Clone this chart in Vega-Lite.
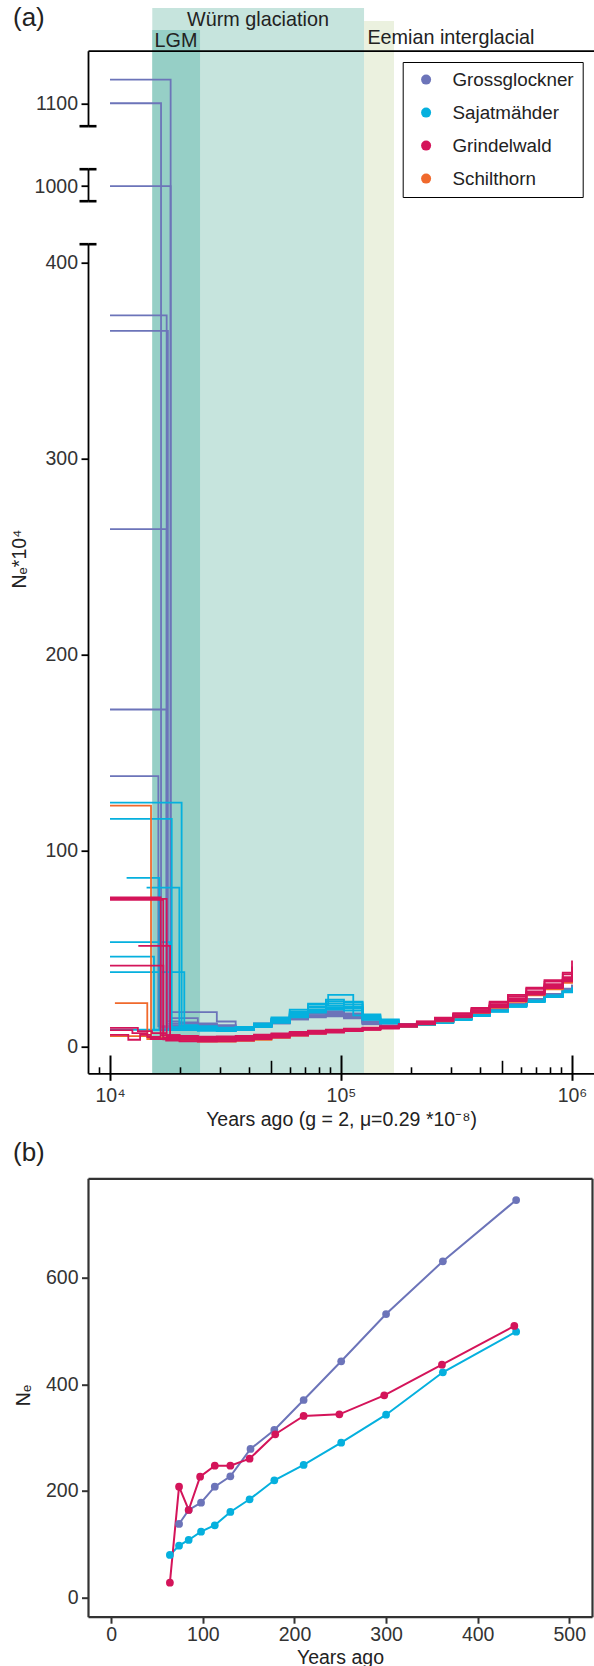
{
"$schema":"https://vega.github.io/schema/vega-lite/v6.json",
"autosize":{"type":"none"},
"width":506,"height":1566,
"padding":{"left":88,"top":50.7,"right":0,"bottom":49.3},
"background":"white",
"config":{"view":{"stroke":null},"font":"Liberation Sans","axis":{"grid":false,"labelFont":"Liberation Sans","titleFont":"Liberation Sans"},"legend":{"labelFont":"Liberation Sans"}},
"datasets":{
"reps":[{"rep":"G1","pop":"Grossglockner"},{"rep":"G2","pop":"Grossglockner"},{"rep":"G3","pop":"Grossglockner"},{"rep":"G4","pop":"Grossglockner"},{"rep":"G5","pop":"Grossglockner"},{"rep":"G6","pop":"Grossglockner"},{"rep":"G7","pop":"Grossglockner"},{"rep":"G8","pop":"Grossglockner"},
{"rep":"S1","pop":"Sajatmähder"},{"rep":"S2","pop":"Sajatmähder"},{"rep":"S3","pop":"Sajatmähder"},{"rep":"S4","pop":"Sajatmähder"},{"rep":"S5","pop":"Sajatmähder"},{"rep":"S6","pop":"Sajatmähder"},{"rep":"S7","pop":"Sajatmähder"},{"rep":"S8","pop":"Sajatmähder"},
{"rep":"R1","pop":"Grindelwald"},{"rep":"R2","pop":"Grindelwald"},{"rep":"R3","pop":"Grindelwald"},{"rep":"R4","pop":"Grindelwald"},{"rep":"R5","pop":"Grindelwald"},{"rep":"R6","pop":"Grindelwald"},{"rep":"R7","pop":"Grindelwald"},{"rep":"R8","pop":"Grindelwald"},
{"rep":"O1","pop":"Schilthorn"},{"rep":"O2","pop":"Schilthorn"},{"rep":"O3","pop":"Schilthorn"}],
"bands":[
{"period":"Würm glaciation","start":15240,"end":125800,"floor":-13.5,"top":1148.6,"label_t":43720,"label_ne":1139.6},
{"period":"LGM","start":15240,"end":24530,"floor":-13.5,"top":1137.4,"label_t":19310,"label_ne":1128.8},
{"period":"Eemian interglacial","start":125800,"end":169600,"floor":-13.5,"top":1141.9,"label_t":299200,"label_ne":1130.2}],
"ne":[
{"pop":"Grossglockner","yrs":74,"ne":137.7},{"pop":"Grossglockner","yrs":84.5,"ne":164},{"pop":"Grossglockner","yrs":98,"ne":177.8},{"pop":"Grossglockner","yrs":113,"ne":207.8},{"pop":"Grossglockner","yrs":130,"ne":227.3},{"pop":"Grossglockner","yrs":152,"ne":278.7},{"pop":"Grossglockner","yrs":178,"ne":314.4},{"pop":"Grossglockner","yrs":210,"ne":370.7},{"pop":"Grossglockner","yrs":251,"ne":443.4},{"pop":"Grossglockner","yrs":300,"ne":532.3},{"pop":"Grossglockner","yrs":362,"ne":631.3},{"pop":"Grossglockner","yrs":442,"ne":746.5},
{"pop":"Sajatmähder","yrs":64,"ne":79.5},{"pop":"Sajatmähder","yrs":74,"ne":97},{"pop":"Sajatmähder","yrs":84.5,"ne":107.7},{"pop":"Sajatmähder","yrs":98,"ne":123.3},{"pop":"Sajatmähder","yrs":113,"ne":135.3},{"pop":"Sajatmähder","yrs":130,"ne":160.3},{"pop":"Sajatmähder","yrs":151,"ne":184.1},{"pop":"Sajatmähder","yrs":178,"ne":219.8},{"pop":"Sajatmähder","yrs":210,"ne":248.6},{"pop":"Sajatmähder","yrs":251,"ne":290.5},{"pop":"Sajatmähder","yrs":300,"ne":343.1},{"pop":"Sajatmähder","yrs":362,"ne":422.8},{"pop":"Sajatmähder","yrs":442,"ne":499.1},
{"pop":"Grindelwald","yrs":64,"ne":27.4},{"pop":"Grindelwald","yrs":74,"ne":207.8},{"pop":"Grindelwald","yrs":84.5,"ne":164},{"pop":"Grindelwald","yrs":97,"ne":226.6},{"pop":"Grindelwald","yrs":113,"ne":247.3},{"pop":"Grindelwald","yrs":130,"ne":247.3},{"pop":"Grindelwald","yrs":151,"ne":260.4},{"pop":"Grindelwald","yrs":179,"ne":306.3},{"pop":"Grindelwald","yrs":210,"ne":340.7},{"pop":"Grindelwald","yrs":249,"ne":343.8},{"pop":"Grindelwald","yrs":298,"ne":379.5},{"pop":"Grindelwald","yrs":361,"ne":437.1},{"pop":"Grindelwald","yrs":440,"ne":509.8}],
"psmc":[
{"rep":"G1","t":10000,"ne":1112},{"rep":"G1","t":18300,"ne":17.7},{"rep":"G1","t":29000,"ne":12.9},{"rep":"G1","t":35000,"ne":10},{"rep":"G1","t":42000,"ne":11.5},{"rep":"G1","t":50000,"ne":13.5},{"rep":"G1","t":60000,"ne":16},{"rep":"G1","t":72000,"ne":18},{"rep":"G1","t":86000,"ne":19},{"rep":"G1","t":103000,"ne":17},{"rep":"G1","t":124000,"ne":13},{"rep":"G1","t":148000,"ne":11},{"rep":"G1","t":178000,"ne":10.8},{"rep":"G1","t":213000,"ne":11.6},{"rep":"G1","t":255000,"ne":12.9},{"rep":"G1","t":306000,"ne":14.6},{"rep":"G1","t":367000,"ne":16.6},{"rep":"G1","t":440000,"ne":18.9},{"rep":"G1","t":528000,"ne":21.6},{"rep":"G1","t":634000,"ne":24.1},{"rep":"G1","t":760000,"ne":26.6},{"rep":"G1","t":912000,"ne":29.2},{"rep":"G1","t":1000000,"ne":31.5},
{"rep":"G2","t":10000,"ne":1100},{"rep":"G2","t":16630,"ne":10},{"rep":"G2","t":20000,"ne":9},{"rep":"G2","t":24000,"ne":8.5},{"rep":"G2","t":29000,"ne":8},{"rep":"G2","t":35000,"ne":8.5},{"rep":"G2","t":42000,"ne":10},{"rep":"G2","t":50000,"ne":12},{"rep":"G2","t":60000,"ne":14},{"rep":"G2","t":72000,"ne":15},{"rep":"G2","t":86000,"ne":15.5},{"rep":"G2","t":103000,"ne":14.5},{"rep":"G2","t":124000,"ne":11.5},{"rep":"G2","t":148000,"ne":10},{"rep":"G2","t":178000,"ne":10.2},{"rep":"G2","t":213000,"ne":11.2},{"rep":"G2","t":255000,"ne":12.4},{"rep":"G2","t":306000,"ne":14.1},{"rep":"G2","t":367000,"ne":16},{"rep":"G2","t":440000,"ne":18.3},{"rep":"G2","t":528000,"ne":21},{"rep":"G2","t":634000,"ne":23.4},{"rep":"G2","t":760000,"ne":26},{"rep":"G2","t":912000,"ne":28.4},{"rep":"G2","t":1000000,"ne":30.5},
{"rep":"G3","t":10000,"ne":1000},{"rep":"G3","t":18300,"ne":14.6},{"rep":"G3","t":24000,"ne":12},{"rep":"G3","t":29000,"ne":11},{"rep":"G3","t":35000,"ne":10},{"rep":"G3","t":42000,"ne":12},{"rep":"G3","t":50000,"ne":14},{"rep":"G3","t":60000,"ne":16.5},{"rep":"G3","t":72000,"ne":17.5},{"rep":"G3","t":86000,"ne":18},{"rep":"G3","t":103000,"ne":16.5},{"rep":"G3","t":124000,"ne":12},{"rep":"G3","t":148000,"ne":10.4},{"rep":"G3","t":178000,"ne":10.6},{"rep":"G3","t":213000,"ne":11.7},{"rep":"G3","t":255000,"ne":13},{"rep":"G3","t":306000,"ne":14.8},{"rep":"G3","t":367000,"ne":16.8},{"rep":"G3","t":440000,"ne":19.2},{"rep":"G3","t":528000,"ne":21.8},{"rep":"G3","t":634000,"ne":24.4},{"rep":"G3","t":760000,"ne":27},{"rep":"G3","t":912000,"ne":29.6},{"rep":"G3","t":1000000,"ne":31},
{"rep":"G4","t":10000,"ne":373},{"rep":"G4","t":17590,"ne":11},{"rep":"G4","t":24000,"ne":10},{"rep":"G4","t":29000,"ne":9.5},{"rep":"G4","t":35000,"ne":9},{"rep":"G4","t":42000,"ne":10.5},{"rep":"G4","t":50000,"ne":12.5},{"rep":"G4","t":60000,"ne":14.5},{"rep":"G4","t":72000,"ne":16},{"rep":"G4","t":86000,"ne":16.5},{"rep":"G4","t":103000,"ne":15.5},{"rep":"G4","t":124000,"ne":12},{"rep":"G4","t":148000,"ne":10.2},{"rep":"G4","t":178000,"ne":10.3},{"rep":"G4","t":213000,"ne":11.3},{"rep":"G4","t":255000,"ne":12.6},{"rep":"G4","t":306000,"ne":14.3},{"rep":"G4","t":367000,"ne":16.3},{"rep":"G4","t":440000,"ne":18.6},{"rep":"G4","t":528000,"ne":21.2},{"rep":"G4","t":634000,"ne":23.7},{"rep":"G4","t":760000,"ne":26.2},{"rep":"G4","t":912000,"ne":28.7},{"rep":"G4","t":1000000,"ne":30},
{"rep":"G5","t":10000,"ne":365},{"rep":"G5","t":17800,"ne":13},{"rep":"G5","t":20000,"ne":12.5},{"rep":"G5","t":24000,"ne":11.5},{"rep":"G5","t":29000,"ne":10.5},{"rep":"G5","t":35000,"ne":9.8},{"rep":"G5","t":42000,"ne":11.2},{"rep":"G5","t":50000,"ne":13.2},{"rep":"G5","t":60000,"ne":15.2},{"rep":"G5","t":72000,"ne":17},{"rep":"G5","t":86000,"ne":17.5},{"rep":"G5","t":103000,"ne":16.2},{"rep":"G5","t":124000,"ne":12.8},{"rep":"G5","t":148000,"ne":10.6},{"rep":"G5","t":178000,"ne":10.6},{"rep":"G5","t":213000,"ne":11.6},{"rep":"G5","t":255000,"ne":12.9},{"rep":"G5","t":306000,"ne":14.6},{"rep":"G5","t":367000,"ne":16.7},{"rep":"G5","t":440000,"ne":19},{"rep":"G5","t":528000,"ne":21.7},{"rep":"G5","t":634000,"ne":24.2},{"rep":"G5","t":760000,"ne":26.8},{"rep":"G5","t":912000,"ne":29.3},{"rep":"G5","t":1000000,"ne":31.8},
{"rep":"G6","t":10000,"ne":264},{"rep":"G6","t":17590,"ne":9.5},{"rep":"G6","t":24000,"ne":9},{"rep":"G6","t":29000,"ne":8.5},{"rep":"G6","t":35000,"ne":8.8},{"rep":"G6","t":42000,"ne":10.2},{"rep":"G6","t":50000,"ne":12},{"rep":"G6","t":60000,"ne":14},{"rep":"G6","t":72000,"ne":15.5},{"rep":"G6","t":86000,"ne":16},{"rep":"G6","t":103000,"ne":15},{"rep":"G6","t":124000,"ne":11.8},{"rep":"G6","t":148000,"ne":10.1},{"rep":"G6","t":178000,"ne":10.2},{"rep":"G6","t":213000,"ne":11.2},{"rep":"G6","t":255000,"ne":12.5},{"rep":"G6","t":306000,"ne":14.2},{"rep":"G6","t":367000,"ne":16.2},{"rep":"G6","t":440000,"ne":18.5},{"rep":"G6","t":528000,"ne":21},{"rep":"G6","t":634000,"ne":23.5},{"rep":"G6","t":760000,"ne":26},{"rep":"G6","t":912000,"ne":28.5},{"rep":"G6","t":1000000,"ne":30.2},
{"rep":"G7","t":10000,"ne":172},{"rep":"G7","t":17590,"ne":12},{"rep":"G7","t":24000,"ne":10.8},{"rep":"G7","t":29000,"ne":9.8},{"rep":"G7","t":35000,"ne":9.6},{"rep":"G7","t":42000,"ne":11},{"rep":"G7","t":50000,"ne":13},{"rep":"G7","t":60000,"ne":15.5},{"rep":"G7","t":72000,"ne":17.2},{"rep":"G7","t":86000,"ne":17.8},{"rep":"G7","t":103000,"ne":16.5},{"rep":"G7","t":124000,"ne":12.6},{"rep":"G7","t":148000,"ne":10.5},{"rep":"G7","t":178000,"ne":10.5},{"rep":"G7","t":213000,"ne":11.5},{"rep":"G7","t":255000,"ne":12.8},{"rep":"G7","t":306000,"ne":14.5},{"rep":"G7","t":367000,"ne":16.5},{"rep":"G7","t":440000,"ne":18.8},{"rep":"G7","t":528000,"ne":21.5},{"rep":"G7","t":634000,"ne":24},{"rep":"G7","t":760000,"ne":26.5},{"rep":"G7","t":912000,"ne":29},{"rep":"G7","t":1000000,"ne":31},
{"rep":"G8","t":10000,"ne":138},{"rep":"G8","t":16190,"ne":10.5},{"rep":"G8","t":24000,"ne":10},{"rep":"G8","t":29000,"ne":9.2},{"rep":"G8","t":42000,"ne":10.8},{"rep":"G8","t":50000,"ne":12.8},{"rep":"G8","t":60000,"ne":14.8},{"rep":"G8","t":72000,"ne":16.2},{"rep":"G8","t":86000,"ne":16.8},{"rep":"G8","t":103000,"ne":15.8},{"rep":"G8","t":124000,"ne":12.3},{"rep":"G8","t":148000,"ne":10.3},{"rep":"G8","t":178000,"ne":10.4},{"rep":"G8","t":213000,"ne":11.4},{"rep":"G8","t":255000,"ne":12.7},{"rep":"G8","t":306000,"ne":14.4},{"rep":"G8","t":367000,"ne":16.4},{"rep":"G8","t":440000,"ne":18.7},{"rep":"G8","t":528000,"ne":21.3},{"rep":"G8","t":634000,"ne":23.8},{"rep":"G8","t":760000,"ne":26.3},{"rep":"G8","t":912000,"ne":28.8},{"rep":"G8","t":1000000,"ne":30.8},
{"rep":"S1","t":10000,"ne":124.5},{"rep":"S1","t":20420,"ne":9.5},{"rep":"S1","t":29000,"ne":9},{"rep":"S1","t":35000,"ne":9.5},{"rep":"S1","t":42000,"ne":11},{"rep":"S1","t":50000,"ne":14},{"rep":"S1","t":60000,"ne":17},{"rep":"S1","t":72000,"ne":20},{"rep":"S1","t":86000,"ne":22},{"rep":"S1","t":103000,"ne":21.5},{"rep":"S1","t":124000,"ne":15.5},{"rep":"S1","t":148000,"ne":13},{"rep":"S1","t":178000,"ne":11.2},{"rep":"S1","t":213000,"ne":11.6},{"rep":"S1","t":255000,"ne":12.6},{"rep":"S1","t":306000,"ne":14.1},{"rep":"S1","t":367000,"ne":16.1},{"rep":"S1","t":440000,"ne":18.3},{"rep":"S1","t":528000,"ne":20.9},{"rep":"S1","t":634000,"ne":23.3},{"rep":"S1","t":760000,"ne":25.9},{"rep":"S1","t":912000,"ne":28.3},{"rep":"S1","t":1000000,"ne":30},
{"rep":"S2","t":10000,"ne":116.2},{"rep":"S2","t":18500,"ne":10},{"rep":"S2","t":24000,"ne":9.5},{"rep":"S2","t":29000,"ne":9},{"rep":"S2","t":35000,"ne":9.2},{"rep":"S2","t":42000,"ne":10.8},{"rep":"S2","t":50000,"ne":13.5},{"rep":"S2","t":60000,"ne":16.5},{"rep":"S2","t":72000,"ne":19},{"rep":"S2","t":86000,"ne":21},{"rep":"S2","t":103000,"ne":20.5},{"rep":"S2","t":124000,"ne":14.5},{"rep":"S2","t":148000,"ne":12.5},{"rep":"S2","t":178000,"ne":11},{"rep":"S2","t":213000,"ne":11.5},{"rep":"S2","t":255000,"ne":12.5},{"rep":"S2","t":306000,"ne":14},{"rep":"S2","t":367000,"ne":16},{"rep":"S2","t":440000,"ne":18.2},{"rep":"S2","t":528000,"ne":20.8},{"rep":"S2","t":634000,"ne":23.2},{"rep":"S2","t":760000,"ne":25.8},{"rep":"S2","t":912000,"ne":28.2},{"rep":"S2","t":1000000,"ne":29.8},
{"rep":"S3","t":11800,"ne":86.1},{"rep":"S3","t":16350,"ne":9},{"rep":"S3","t":24000,"ne":8.8},{"rep":"S3","t":29000,"ne":8.4},{"rep":"S3","t":35000,"ne":8.8},{"rep":"S3","t":42000,"ne":10.2},{"rep":"S3","t":50000,"ne":12.5},{"rep":"S3","t":60000,"ne":15.5},{"rep":"S3","t":72000,"ne":18},{"rep":"S3","t":86000,"ne":19.8},{"rep":"S3","t":103000,"ne":19.5},{"rep":"S3","t":124000,"ne":14},{"rep":"S3","t":148000,"ne":12.2},{"rep":"S3","t":178000,"ne":10.9},{"rep":"S3","t":213000,"ne":11.3},{"rep":"S3","t":255000,"ne":12.3},{"rep":"S3","t":306000,"ne":13.8},{"rep":"S3","t":367000,"ne":15.8},{"rep":"S3","t":440000,"ne":18},{"rep":"S3","t":528000,"ne":20.5},{"rep":"S3","t":634000,"ne":22.9},{"rep":"S3","t":760000,"ne":25.5},{"rep":"S3","t":912000,"ne":27.9},{"rep":"S3","t":1000000,"ne":29.5},
{"rep":"S4","t":14400,"ne":81.2},{"rep":"S4","t":19960,"ne":10.5},{"rep":"S4","t":24000,"ne":10},{"rep":"S4","t":29000,"ne":9.5},{"rep":"S4","t":35000,"ne":10},{"rep":"S4","t":42000,"ne":11.5},{"rep":"S4","t":50000,"ne":14.5},{"rep":"S4","t":60000,"ne":18},{"rep":"S4","t":72000,"ne":21.5},{"rep":"S4","t":88000,"ne":26.5},{"rep":"S4","t":113000,"ne":16},{"rep":"S4","t":148000,"ne":13.5},{"rep":"S4","t":178000,"ne":11.4},{"rep":"S4","t":213000,"ne":11.8},{"rep":"S4","t":255000,"ne":12.8},{"rep":"S4","t":306000,"ne":14.3},{"rep":"S4","t":367000,"ne":16.3},{"rep":"S4","t":440000,"ne":18.5},{"rep":"S4","t":528000,"ne":21.1},{"rep":"S4","t":634000,"ne":23.5},{"rep":"S4","t":760000,"ne":26.1},{"rep":"S4","t":912000,"ne":28.5},{"rep":"S4","t":1000000,"ne":30.2},
{"rep":"S5","t":10000,"ne":53.4},{"rep":"S5","t":18200,"ne":9.8},{"rep":"S5","t":24000,"ne":9.3},{"rep":"S5","t":29000,"ne":8.8},{"rep":"S5","t":35000,"ne":9.4},{"rep":"S5","t":42000,"ne":11.2},{"rep":"S5","t":50000,"ne":14.2},{"rep":"S5","t":60000,"ne":17.5},{"rep":"S5","t":72000,"ne":20.5},{"rep":"S5","t":86000,"ne":23},{"rep":"S5","t":103000,"ne":22.5},{"rep":"S5","t":124000,"ne":15},{"rep":"S5","t":148000,"ne":12.8},{"rep":"S5","t":178000,"ne":11.1},{"rep":"S5","t":213000,"ne":11.5},{"rep":"S5","t":255000,"ne":12.5},{"rep":"S5","t":306000,"ne":14},{"rep":"S5","t":367000,"ne":15.9},{"rep":"S5","t":440000,"ne":18.1},{"rep":"S5","t":528000,"ne":20.7},{"rep":"S5","t":634000,"ne":23.1},{"rep":"S5","t":760000,"ne":25.7},{"rep":"S5","t":912000,"ne":28.1},{"rep":"S5","t":1000000,"ne":29.7},
{"rep":"S6","t":10000,"ne":46},{"rep":"S6","t":15500,"ne":8.5},{"rep":"S6","t":24000,"ne":8.2},{"rep":"S6","t":29000,"ne":8},{"rep":"S6","t":35000,"ne":8.6},{"rep":"S6","t":42000,"ne":10},{"rep":"S6","t":50000,"ne":12.2},{"rep":"S6","t":60000,"ne":15},{"rep":"S6","t":72000,"ne":17.5},{"rep":"S6","t":86000,"ne":19},{"rep":"S6","t":103000,"ne":18.5},{"rep":"S6","t":124000,"ne":13.8},{"rep":"S6","t":148000,"ne":12},{"rep":"S6","t":178000,"ne":10.8},{"rep":"S6","t":213000,"ne":11.2},{"rep":"S6","t":255000,"ne":12.2},{"rep":"S6","t":306000,"ne":13.7},{"rep":"S6","t":367000,"ne":15.7},{"rep":"S6","t":440000,"ne":17.9},{"rep":"S6","t":528000,"ne":20.4},{"rep":"S6","t":634000,"ne":22.8},{"rep":"S6","t":760000,"ne":25.4},{"rep":"S6","t":912000,"ne":27.8},{"rep":"S6","t":1000000,"ne":29.2},
{"rep":"S7","t":10000,"ne":38.1},{"rep":"S7","t":20970,"ne":11},{"rep":"S7","t":24000,"ne":10.5},{"rep":"S7","t":29000,"ne":9.8},{"rep":"S7","t":35000,"ne":10.2},{"rep":"S7","t":42000,"ne":12},{"rep":"S7","t":50000,"ne":15},{"rep":"S7","t":60000,"ne":19},{"rep":"S7","t":72000,"ne":22},{"rep":"S7","t":86000,"ne":24},{"rep":"S7","t":103000,"ne":23},{"rep":"S7","t":124000,"ne":16.5},{"rep":"S7","t":148000,"ne":14},{"rep":"S7","t":178000,"ne":11.5},{"rep":"S7","t":213000,"ne":11.9},{"rep":"S7","t":255000,"ne":12.9},{"rep":"S7","t":306000,"ne":14.4},{"rep":"S7","t":367000,"ne":16.4},{"rep":"S7","t":440000,"ne":18.6},{"rep":"S7","t":528000,"ne":21.2},{"rep":"S7","t":634000,"ne":23.6},{"rep":"S7","t":760000,"ne":26.2},{"rep":"S7","t":912000,"ne":28.6},{"rep":"S7","t":1000000,"ne":30.4},
{"rep":"S8","t":10000,"ne":8.7},{"rep":"S8","t":20000,"ne":9},{"rep":"S8","t":24000,"ne":8.6},{"rep":"S8","t":29000,"ne":8.2},{"rep":"S8","t":35000,"ne":8.7},{"rep":"S8","t":42000,"ne":10.4},{"rep":"S8","t":50000,"ne":13},{"rep":"S8","t":60000,"ne":16},{"rep":"S8","t":72000,"ne":18.6},{"rep":"S8","t":86000,"ne":20.2},{"rep":"S8","t":103000,"ne":19.8},{"rep":"S8","t":124000,"ne":14.3},{"rep":"S8","t":148000,"ne":12.3},{"rep":"S8","t":178000,"ne":10.9},{"rep":"S8","t":213000,"ne":11.4},{"rep":"S8","t":255000,"ne":12.4},{"rep":"S8","t":306000,"ne":13.9},{"rep":"S8","t":367000,"ne":15.9},{"rep":"S8","t":440000,"ne":18.1},{"rep":"S8","t":528000,"ne":20.6},{"rep":"S8","t":634000,"ne":23},{"rep":"S8","t":760000,"ne":25.6},{"rep":"S8","t":912000,"ne":28},{"rep":"S8","t":1000000,"ne":29.6},
{"rep":"R1","t":10000,"ne":75.4},{"rep":"R1","t":17590,"ne":5.5},{"rep":"R1","t":20000,"ne":5.2},{"rep":"R1","t":24000,"ne":4.8},{"rep":"R1","t":29000,"ne":4.6},{"rep":"R1","t":35000,"ne":5},{"rep":"R1","t":42000,"ne":5.6},{"rep":"R1","t":50000,"ne":6.2},{"rep":"R1","t":60000,"ne":7.1},{"rep":"R1","t":72000,"ne":7.9},{"rep":"R1","t":86000,"ne":8.4},{"rep":"R1","t":103000,"ne":8.9},{"rep":"R1","t":124000,"ne":9.4},{"rep":"R1","t":148000,"ne":10.1},{"rep":"R1","t":178000,"ne":11.1},{"rep":"R1","t":213000,"ne":12.4},{"rep":"R1","t":255000,"ne":14.1},{"rep":"R1","t":306000,"ne":16.2},{"rep":"R1","t":367000,"ne":18.7},{"rep":"R1","t":440000,"ne":21.6},{"rep":"R1","t":528000,"ne":24.8},{"rep":"R1","t":634000,"ne":28.3},{"rep":"R1","t":760000,"ne":31.9},{"rep":"R1","t":912000,"ne":35.5},{"rep":"R1","t":1000000,"ne":38.5},
{"rep":"R2","t":10000,"ne":76.2},{"rep":"R2","t":16560,"ne":6},{"rep":"R2","t":20000,"ne":5.6},{"rep":"R2","t":24000,"ne":5},{"rep":"R2","t":29000,"ne":4.8},{"rep":"R2","t":35000,"ne":5.2},{"rep":"R2","t":42000,"ne":5.8},{"rep":"R2","t":50000,"ne":6.4},{"rep":"R2","t":60000,"ne":7.3},{"rep":"R2","t":72000,"ne":8.1},{"rep":"R2","t":86000,"ne":8.6},{"rep":"R2","t":103000,"ne":9.1},{"rep":"R2","t":124000,"ne":9.6},{"rep":"R2","t":148000,"ne":10.3},{"rep":"R2","t":178000,"ne":11.4},{"rep":"R2","t":213000,"ne":12.8},{"rep":"R2","t":255000,"ne":14.6},{"rep":"R2","t":306000,"ne":16.8},{"rep":"R2","t":367000,"ne":19.4},{"rep":"R2","t":440000,"ne":22.4},{"rep":"R2","t":528000,"ne":25.8},{"rep":"R2","t":634000,"ne":29.5},{"rep":"R2","t":760000,"ne":33.2},{"rep":"R2","t":912000,"ne":37},{"rep":"R2","t":1000000,"ne":40},
{"rep":"R3","t":10000,"ne":75},{"rep":"R3","t":17000,"ne":4.5},{"rep":"R3","t":20000,"ne":4.3},{"rep":"R3","t":24000,"ne":4},{"rep":"R3","t":35000,"ne":4.4},{"rep":"R3","t":42000,"ne":5},{"rep":"R3","t":50000,"ne":5.7},{"rep":"R3","t":60000,"ne":6.6},{"rep":"R3","t":72000,"ne":7.4},{"rep":"R3","t":86000,"ne":8},{"rep":"R3","t":103000,"ne":8.5},{"rep":"R3","t":124000,"ne":9},{"rep":"R3","t":148000,"ne":9.7},{"rep":"R3","t":178000,"ne":10.7},{"rep":"R3","t":213000,"ne":12},{"rep":"R3","t":255000,"ne":13.7},{"rep":"R3","t":306000,"ne":15.7},{"rep":"R3","t":367000,"ne":18.1},{"rep":"R3","t":440000,"ne":20.9},{"rep":"R3","t":528000,"ne":24},{"rep":"R3","t":634000,"ne":27.4},{"rep":"R3","t":760000,"ne":30.9},{"rep":"R3","t":912000,"ne":34.3},{"rep":"R3","t":1000000,"ne":37},
{"rep":"R4","t":13260,"ne":51.5},{"rep":"R4","t":18200,"ne":5},{"rep":"R4","t":20000,"ne":4.8},{"rep":"R4","t":24000,"ne":4.4},{"rep":"R4","t":29000,"ne":4.3},{"rep":"R4","t":35000,"ne":4.7},{"rep":"R4","t":42000,"ne":5.3},{"rep":"R4","t":50000,"ne":6},{"rep":"R4","t":60000,"ne":6.9},{"rep":"R4","t":72000,"ne":7.7},{"rep":"R4","t":86000,"ne":8.2},{"rep":"R4","t":103000,"ne":8.7},{"rep":"R4","t":124000,"ne":9.2},{"rep":"R4","t":148000,"ne":9.9},{"rep":"R4","t":178000,"ne":10.9},{"rep":"R4","t":213000,"ne":12.2},{"rep":"R4","t":255000,"ne":13.9},{"rep":"R4","t":306000,"ne":16},{"rep":"R4","t":367000,"ne":18.4},{"rep":"R4","t":440000,"ne":21.2},{"rep":"R4","t":528000,"ne":24.4},{"rep":"R4","t":634000,"ne":27.8},{"rep":"R4","t":760000,"ne":31.3},{"rep":"R4","t":912000,"ne":34.8},{"rep":"R4","t":1000000,"ne":44},
{"rep":"R5","t":10000,"ne":41.4},{"rep":"R5","t":17020,"ne":3.8},{"rep":"R5","t":20000,"ne":3.6},{"rep":"R5","t":24000,"ne":3.4},{"rep":"R5","t":29000,"ne":3.5},{"rep":"R5","t":35000,"ne":3.9},{"rep":"R5","t":42000,"ne":4.5},{"rep":"R5","t":50000,"ne":5.3},{"rep":"R5","t":60000,"ne":6.2},{"rep":"R5","t":72000,"ne":7},{"rep":"R5","t":86000,"ne":7.7},{"rep":"R5","t":103000,"ne":8.2},{"rep":"R5","t":124000,"ne":8.8},{"rep":"R5","t":148000,"ne":9.5},{"rep":"R5","t":178000,"ne":10.5},{"rep":"R5","t":213000,"ne":11.8},{"rep":"R5","t":255000,"ne":13.4},{"rep":"R5","t":306000,"ne":15.4},{"rep":"R5","t":367000,"ne":17.8},{"rep":"R5","t":440000,"ne":20.6},{"rep":"R5","t":528000,"ne":23.7},{"rep":"R5","t":634000,"ne":27},{"rep":"R5","t":760000,"ne":30.5},{"rep":"R5","t":912000,"ne":34},{"rep":"R5","t":1000000,"ne":36.5},
{"rep":"R6","t":10000,"ne":9.7},{"rep":"R6","t":13200,"ne":8},{"rep":"R6","t":15200,"ne":7},{"rep":"R6","t":17500,"ne":6},{"rep":"R6","t":20000,"ne":5.5},{"rep":"R6","t":24000,"ne":5.2},{"rep":"R6","t":29000,"ne":5.3},{"rep":"R6","t":35000,"ne":5.6},{"rep":"R6","t":42000,"ne":6.2},{"rep":"R6","t":50000,"ne":6.8},{"rep":"R6","t":60000,"ne":7.6},{"rep":"R6","t":72000,"ne":8.3},{"rep":"R6","t":86000,"ne":8.8},{"rep":"R6","t":103000,"ne":9.3},{"rep":"R6","t":124000,"ne":9.8},{"rep":"R6","t":148000,"ne":10.5},{"rep":"R6","t":178000,"ne":11.6},{"rep":"R6","t":213000,"ne":13},{"rep":"R6","t":255000,"ne":14.9},{"rep":"R6","t":306000,"ne":17.2},{"rep":"R6","t":367000,"ne":19.9},{"rep":"R6","t":440000,"ne":23},{"rep":"R6","t":528000,"ne":26.5},{"rep":"R6","t":634000,"ne":30.2},{"rep":"R6","t":760000,"ne":34},{"rep":"R6","t":912000,"ne":37.8},{"rep":"R6","t":1000000,"ne":41},
{"rep":"R7","t":10000,"ne":6.1},{"rep":"R7","t":12000,"ne":3.6},{"rep":"R7","t":13500,"ne":6.1},{"rep":"R7","t":15000,"ne":4},{"rep":"R7","t":17500,"ne":3.2},{"rep":"R7","t":20000,"ne":2.8},{"rep":"R7","t":24000,"ne":2.6},{"rep":"R7","t":29000,"ne":2.8},{"rep":"R7","t":35000,"ne":3.2},{"rep":"R7","t":42000,"ne":3.9},{"rep":"R7","t":50000,"ne":4.7},{"rep":"R7","t":60000,"ne":5.7},{"rep":"R7","t":72000,"ne":6.6},{"rep":"R7","t":86000,"ne":7.3},{"rep":"R7","t":103000,"ne":8},{"rep":"R7","t":124000,"ne":8.6},{"rep":"R7","t":148000,"ne":9.3},{"rep":"R7","t":178000,"ne":10.3},{"rep":"R7","t":213000,"ne":11.6},{"rep":"R7","t":255000,"ne":13.2},{"rep":"R7","t":306000,"ne":15.1},{"rep":"R7","t":367000,"ne":17.5},{"rep":"R7","t":440000,"ne":20.2},{"rep":"R7","t":528000,"ne":23.3},{"rep":"R7","t":634000,"ne":26.6},{"rep":"R7","t":760000,"ne":30},{"rep":"R7","t":912000,"ne":33.4},{"rep":"R7","t":1000000,"ne":36},
{"rep":"R8","t":10000,"ne":8.5},{"rep":"R8","t":12500,"ne":7},{"rep":"R8","t":14500,"ne":5},{"rep":"R8","t":16500,"ne":4.2},{"rep":"R8","t":20000,"ne":3.9},{"rep":"R8","t":24000,"ne":3.7},{"rep":"R8","t":29000,"ne":3.8},{"rep":"R8","t":35000,"ne":4.2},{"rep":"R8","t":42000,"ne":4.8},{"rep":"R8","t":50000,"ne":5.5},{"rep":"R8","t":60000,"ne":6.4},{"rep":"R8","t":72000,"ne":7.2},{"rep":"R8","t":86000,"ne":7.8},{"rep":"R8","t":103000,"ne":8.4},{"rep":"R8","t":124000,"ne":9},{"rep":"R8","t":148000,"ne":9.6},{"rep":"R8","t":178000,"ne":10.6},{"rep":"R8","t":213000,"ne":11.9},{"rep":"R8","t":255000,"ne":13.6},{"rep":"R8","t":306000,"ne":15.6},{"rep":"R8","t":367000,"ne":18},{"rep":"R8","t":440000,"ne":20.8},{"rep":"R8","t":528000,"ne":23.9},{"rep":"R8","t":634000,"ne":27.2},{"rep":"R8","t":760000,"ne":30.7},{"rep":"R8","t":912000,"ne":34.1},{"rep":"R8","t":1000000,"ne":37},
{"rep":"O1","t":10000,"ne":123},{"rep":"O1","t":15050,"ne":4.8},{"rep":"O1","t":20000,"ne":4.6},{"rep":"O1","t":24000,"ne":4.2},{"rep":"O1","t":29000,"ne":4},{"rep":"O1","t":35000,"ne":4.3},{"rep":"O1","t":42000,"ne":4.9},{"rep":"O1","t":50000,"ne":5.8},{"rep":"O1","t":60000,"ne":6.8},{"rep":"O1","t":72000,"ne":7.8},{"rep":"O1","t":86000,"ne":8.6},{"rep":"O1","t":103000,"ne":9.2},{"rep":"O1","t":124000,"ne":9.7},{"rep":"O1","t":148000,"ne":10.2},{"rep":"O1","t":178000,"ne":11},{"rep":"O1","t":213000,"ne":12.2},{"rep":"O1","t":255000,"ne":13.7},{"rep":"O1","t":306000,"ne":15.7},{"rep":"O1","t":367000,"ne":18.2},{"rep":"O1","t":440000,"ne":20.8},{"rep":"O1","t":528000,"ne":23.8},{"rep":"O1","t":634000,"ne":27.2},{"rep":"O1","t":760000,"ne":30.4},{"rep":"O1","t":912000,"ne":33.8},{"rep":"O1","t":1000000,"ne":36.5},
{"rep":"O2","t":10500,"ne":22.3},{"rep":"O2","t":14500,"ne":4},{"rep":"O2","t":20000,"ne":3.6},{"rep":"O2","t":24000,"ne":3.2},{"rep":"O2","t":29000,"ne":3.1},{"rep":"O2","t":35000,"ne":3.5},{"rep":"O2","t":42000,"ne":4.1},{"rep":"O2","t":50000,"ne":5.1},{"rep":"O2","t":60000,"ne":6.1},{"rep":"O2","t":72000,"ne":7.1},{"rep":"O2","t":86000,"ne":7.9},{"rep":"O2","t":103000,"ne":8.6},{"rep":"O2","t":124000,"ne":9.2},{"rep":"O2","t":148000,"ne":9.7},{"rep":"O2","t":178000,"ne":10.5},{"rep":"O2","t":213000,"ne":11.7},{"rep":"O2","t":255000,"ne":13.2},{"rep":"O2","t":306000,"ne":15.2},{"rep":"O2","t":367000,"ne":17.6},{"rep":"O2","t":440000,"ne":20.2},{"rep":"O2","t":528000,"ne":23.2},{"rep":"O2","t":634000,"ne":26.6},{"rep":"O2","t":760000,"ne":29.7},{"rep":"O2","t":912000,"ne":33.1},{"rep":"O2","t":1000000,"ne":35.5},
{"rep":"O3","t":10000,"ne":5.5},{"rep":"O3","t":15000,"ne":4.5},{"rep":"O3","t":20000,"ne":3},{"rep":"O3","t":24000,"ne":2.7},{"rep":"O3","t":35000,"ne":3},{"rep":"O3","t":42000,"ne":3.6},{"rep":"O3","t":50000,"ne":4.6},{"rep":"O3","t":60000,"ne":5.7},{"rep":"O3","t":72000,"ne":6.8},{"rep":"O3","t":86000,"ne":7.6},{"rep":"O3","t":103000,"ne":8.3},{"rep":"O3","t":124000,"ne":8.9},{"rep":"O3","t":148000,"ne":9.5},{"rep":"O3","t":178000,"ne":10.4},{"rep":"O3","t":213000,"ne":11.5},{"rep":"O3","t":255000,"ne":13},{"rep":"O3","t":306000,"ne":15},{"rep":"O3","t":367000,"ne":17.3},{"rep":"O3","t":440000,"ne":19.9},{"rep":"O3","t":528000,"ne":22.9},{"rep":"O3","t":634000,"ne":26.2},{"rep":"O3","t":760000,"ne":29.3},{"rep":"O3","t":912000,"ne":32.6},{"rep":"O3","t":1000000,"ne":35}
]},
"layer":[
{"layer":[
{"data":{"name":"bands"},"mark":{"type":"rect"},
"encoding":{
"x":{"field":"start","type":"quantitative","scale":{"type":"log","domain":[8030,1245100],"nice":false},
"axis":{"orient":"bottom","offset":-543.4,"values":[10000,100000,1000000],"labelExpr":"datum.value == 10000 ? '10⁴' : datum.value == 100000 ? '10⁵' : '10⁶'","tickSize":7,"tickWidth":2,"tickColor":"#000","domainColor":"#000","domainWidth":1.8,"labelFontSize":19.5,"labelColor":"#333","labelBaseline":"alphabetic","labelPadding":21.4,"labelFlush":false,"labelOverlap":false,"title":"Years ago (g = 2, μ=0.29 *10⁻⁸)","titleFontSize":19.5,"titleFontWeight":"normal","titleColor":"#222","titleBaseline":"alphabetic","titleY":52.7,"grid":false,"zindex":1}},
"x2":{"field":"end"},
"y":{"field":"floor","type":"quantitative","scale":{"domain":[-13.5,409.7,992.4,1009,1088.4,1126.8],"range":[1022.6,192.6,150.3,117.6,75.3,0],"nice":false,"zero":false},
"axis":{"orient":"left","values":[0,100,200,300,400,1000,1100],"format":"d","tickSize":7,"tickWidth":1.8,"tickColor":"#000","domainColor":"#000","domainWidth":1.8,"domainDash":[830,42.3,32.7,42.3,75.3,20],"labelFontSize":19.5,"labelColor":"#333","labelPadding":3.5,"title":"Nₑ*10⁴","titleFontSize":19.5,"titleFontWeight":"normal","titleColor":"#222","titleBaseline":"alphabetic","titleX":-62.5,"titleY":507.8,"titleAngle":270,"grid":false,"zindex":1}},
"y2":{"field":"top"},
"fill":{"field":"period","type":"nominal","scale":{"domain":["Würm glaciation","LGM","Eemian interglacial"],"range":["#c6e4dd","#96cfc6","#ebf1df"]},"legend":null}}},
{"data":{"name":"bands"},"mark":{"type":"text","fontSize":19.8,"align":"center","baseline":"alphabetic","color":"#222"},
"encoding":{
"x":{"field":"label_t","type":"quantitative","scale":{"type":"log","domain":[8030,1245100],"nice":false},
"axis":{"orient":"top","offset":-1022.6,"values":[10000,100000,1000000],"tickSize":18.3,"tickWidth":2,"tickColor":"#000","labels":false,"domain":false,"title":null,"grid":false,"zindex":1}},
"y":{"field":"label_ne","type":"quantitative","scale":{"domain":[-13.5,409.7,992.4,1009,1088.4,1126.8],"range":[1022.6,192.6,150.3,117.6,75.3,0],"nice":false,"zero":false},
"axis":{"orient":"left","values":[409.7,992.4,1009,1088.4],"tickSize":9,"tickWidth":2.6,"tickColor":"#000","labels":false,"domain":false,"title":null,"grid":false,"zindex":1}},
"text":{"field":"period"}}},
{"data":{"name":"psmc"},
"transform":[{"lookup":"rep","from":{"data":{"name":"reps"},"key":"rep","fields":["pop"]}},{"filter":{"field":"pop","equal":"Grossglockner"}}],
"mark":{"type":"line","interpolate":"step-after","strokeWidth":1.8},
"encoding":{
"x":{"field":"t","type":"quantitative","scale":{"type":"log","domain":[8030,1245100],"nice":false},
"axis":{"orient":"top","offset":-1022.6,"values":[50000,500000],"tickSize":13,"tickWidth":1.6,"tickColor":"#000","labels":false,"domain":false,"title":null,"grid":false,"zindex":1}},
"y":{"field":"ne","type":"quantitative","scale":{"domain":[-13.5,409.7,992.4,1009,1088.4,1126.8],"range":[1022.6,192.6,150.3,117.6,75.3,0],"nice":false,"zero":false},
"axis":{"orient":"right","offset":-506,"values":[409.7,992.4,1009,1088.4],"tickSize":8,"tickWidth":2.6,"tickColor":"#000","labels":false,"domain":false,"title":null,"grid":false,"zindex":1}},
"stroke":{"field":"pop","type":"nominal","scale":{"domain":["Grindelwald","Grossglockner","Sajatmähder","Schilthorn"],"range":["#d4145a","#6c74b9","#05b0de","#f0692c"]},"legend":null},
"detail":{"field":"rep"}}},
{"data":{"name":"psmc"},
"transform":[{"lookup":"rep","from":{"data":{"name":"reps"},"key":"rep","fields":["pop"]}},{"filter":{"field":"pop","equal":"Sajatmähder"}}],
"mark":{"type":"line","interpolate":"step-after","strokeWidth":1.8},
"encoding":{
"x":{"field":"t","type":"quantitative","scale":{"type":"log","domain":[8030,1245100],"nice":false},
"axis":{"orient":"top","offset":-1022.6,"values":[9000,20000,30000,40000,60000,70000,80000,90000,200000,300000,400000,600000,700000,800000,900000],"tickSize":6.5,"tickWidth":1.6,"tickColor":"#000","labels":false,"domain":false,"title":null,"grid":false,"zindex":1}},
"y":{"field":"ne","type":"quantitative","scale":{"domain":[-13.5,409.7,992.4,1009,1088.4,1126.8],"range":[1022.6,192.6,150.3,117.6,75.3,0],"nice":false,"zero":false},"axis":null},
"stroke":{"field":"pop","type":"nominal","scale":{"domain":["Grindelwald","Grossglockner","Sajatmähder","Schilthorn"],"range":["#d4145a","#6c74b9","#05b0de","#f0692c"]},"legend":null},
"detail":{"field":"rep"}}},
{"data":{"name":"psmc"},
"transform":[{"lookup":"rep","from":{"data":{"name":"reps"},"key":"rep","fields":["pop"]}},{"filter":{"field":"pop","equal":"Schilthorn"}}],
"mark":{"type":"line","interpolate":"step-after","strokeWidth":1.8},
"encoding":{
"x":{"field":"t","type":"quantitative","scale":{"type":"log","domain":[8030,1245100],"nice":false},
"axis":{"orient":"top","offset":0,"ticks":false,"labels":false,"domain":true,"domainColor":"#000","domainWidth":1.8,"title":null,"grid":false,"zindex":1}},
"y":{"field":"ne","type":"quantitative","scale":{"domain":[-13.5,409.7,992.4,1009,1088.4,1126.8],"range":[1022.6,192.6,150.3,117.6,75.3,0],"nice":false,"zero":false},"axis":null},
"stroke":{"field":"pop","type":"nominal","scale":{"domain":["Grindelwald","Grossglockner","Sajatmähder","Schilthorn"],"range":["#d4145a","#6c74b9","#05b0de","#f0692c"]},"legend":null},
"detail":{"field":"rep"}}},
{"data":{"name":"psmc"},
"transform":[{"lookup":"rep","from":{"data":{"name":"reps"},"key":"rep","fields":["pop"]}},{"filter":{"field":"pop","equal":"Grindelwald"}}],
"mark":{"type":"line","interpolate":"step-after","strokeWidth":1.8},
"encoding":{
"x":{"field":"t","type":"quantitative","scale":{"type":"log","domain":[8030,1245100],"nice":false},"axis":null},
"y":{"field":"ne","type":"quantitative","scale":{"domain":[-13.5,409.7,992.4,1009,1088.4,1126.8],"range":[1022.6,192.6,150.3,117.6,75.3,0],"nice":false,"zero":false},"axis":null},
"stroke":{"field":"pop","type":"nominal","scale":{"domain":["Grindelwald","Grossglockner","Sajatmähder","Schilthorn"],"range":["#d4145a","#6c74b9","#05b0de","#f0692c"]},"legend":null},
"detail":{"field":"rep"}}},
{"data":{"values":[{"label":"(a)","t":3802,"ne":1139.4}]},
"mark":{"type":"text","fontSize":26,"align":"left","baseline":"alphabetic","color":"#222"},
"encoding":{
"x":{"field":"t","type":"quantitative","scale":{"type":"log","domain":[8030,1245100],"nice":false},"axis":null},
"y":{"field":"ne","type":"quantitative","scale":{"domain":[-13.5,409.7,992.4,1009,1088.4,1126.8],"range":[1022.6,192.6,150.3,117.6,75.3,0],"nice":false,"zero":false},"axis":null},
"text":{"field":"label"}}}
],
"resolve":{"axis":{"x":"independent","y":"independent"}}},
{"layer":[
{"data":{"name":"ne"},"mark":{"type":"line","strokeWidth":2},
"encoding":{
"x":{"field":"yrs","type":"quantitative","scale":{"domain":[-25.4,524.8],"range":[0,504],"nice":false,"zero":false},
"axis":{"orient":"bottom","values":[0,100,200,300,400,500],"tickSize":6.5,"tickWidth":2,"tickColor":"#333","domainColor":"#333","domainWidth":2.2,"labelFontSize":19.5,"labelColor":"#333","labelBaseline":"alphabetic","labelPadding":16.8,"labelFlush":false,"title":"Years ago","titleFontSize":19.5,"titleFontWeight":"normal","titleColor":"#222","titleBaseline":"alphabetic","titleY":46.3,"grid":false,"zindex":1}},
"y":{"field":"ne","type":"quantitative","scale":{"domain":[-36.5,787.3],"range":[1566,1127.6],"nice":false,"zero":false},
"axis":{"orient":"left","values":[0,200,400,600],"tickSize":6.5,"tickWidth":2,"tickColor":"#333","domainColor":"#333","domainWidth":2.2,"labelFontSize":19.5,"labelColor":"#333","labelPadding":3.5,"title":"Nₑ","titleFontSize":19.5,"titleFontWeight":"normal","titleColor":"#222","titleBaseline":"alphabetic","titleX":-58.7,"titleY":1344.3,"titleAngle":270,"grid":false,"zindex":1}},
"stroke":{"field":"pop","type":"nominal","scale":{"domain":["Grindelwald","Grossglockner","Sajatmähder","Schilthorn"],"range":["#d4145a","#6c74b9","#05b0de","#f0692c"]},"legend":null}}},
{"data":{"name":"ne"},"mark":{"type":"circle","size":60,"opacity":1},
"encoding":{
"x":{"field":"yrs","type":"quantitative","scale":{"domain":[-25.4,524.8],"range":[0,504],"nice":false,"zero":false},
"axis":{"orient":"top","offset":-1127.6,"ticks":false,"labels":false,"domainColor":"#333","domainWidth":2.2,"title":null,"grid":false,"zindex":1}},
"y":{"field":"ne","type":"quantitative","scale":{"domain":[-36.5,787.3],"range":[1566,1127.6],"nice":false,"zero":false},
"axis":{"orient":"right","offset":-2,"ticks":false,"labels":false,"domainColor":"#333","domainWidth":2.2,"title":null,"grid":false,"zindex":1}},
"color":{"field":"pop","type":"nominal","scale":{"domain":["Grossglockner","Sajatmähder","Grindelwald","Schilthorn"],"range":["#6c74b9","#05b0de","#d4145a","#f0692c"]},
"legend":{"title":null,"orient":"none","legendX":314.7,"legendY":11.3,"symbolType":"circle","symbolSize":100,"labelFontSize":18.8,"labelColor":"#222","padding":8.2,"symbolOffset":5.8,"labelOffset":17,"rowPadding":13,"strokeColor":"#000","fillColor":"#fff"}}}},
{"data":{"values":[{"label":"(b)","yrs":-107.3,"ne":818.9}]},
"mark":{"type":"text","fontSize":26,"align":"left","baseline":"alphabetic","color":"#222"},
"encoding":{
"x":{"field":"yrs","type":"quantitative","scale":{"domain":[-25.4,524.8],"range":[0,504],"nice":false,"zero":false},"axis":null},
"y":{"field":"ne","type":"quantitative","scale":{"domain":[-36.5,787.3],"range":[1566,1127.6],"nice":false,"zero":false},"axis":null},
"text":{"field":"label"}}}
],
"resolve":{"axis":{"x":"independent","y":"independent"}}}
],
"resolve":{"scale":{"x":"independent","y":"independent"},"axis":{"x":"independent","y":"independent"}}
}
